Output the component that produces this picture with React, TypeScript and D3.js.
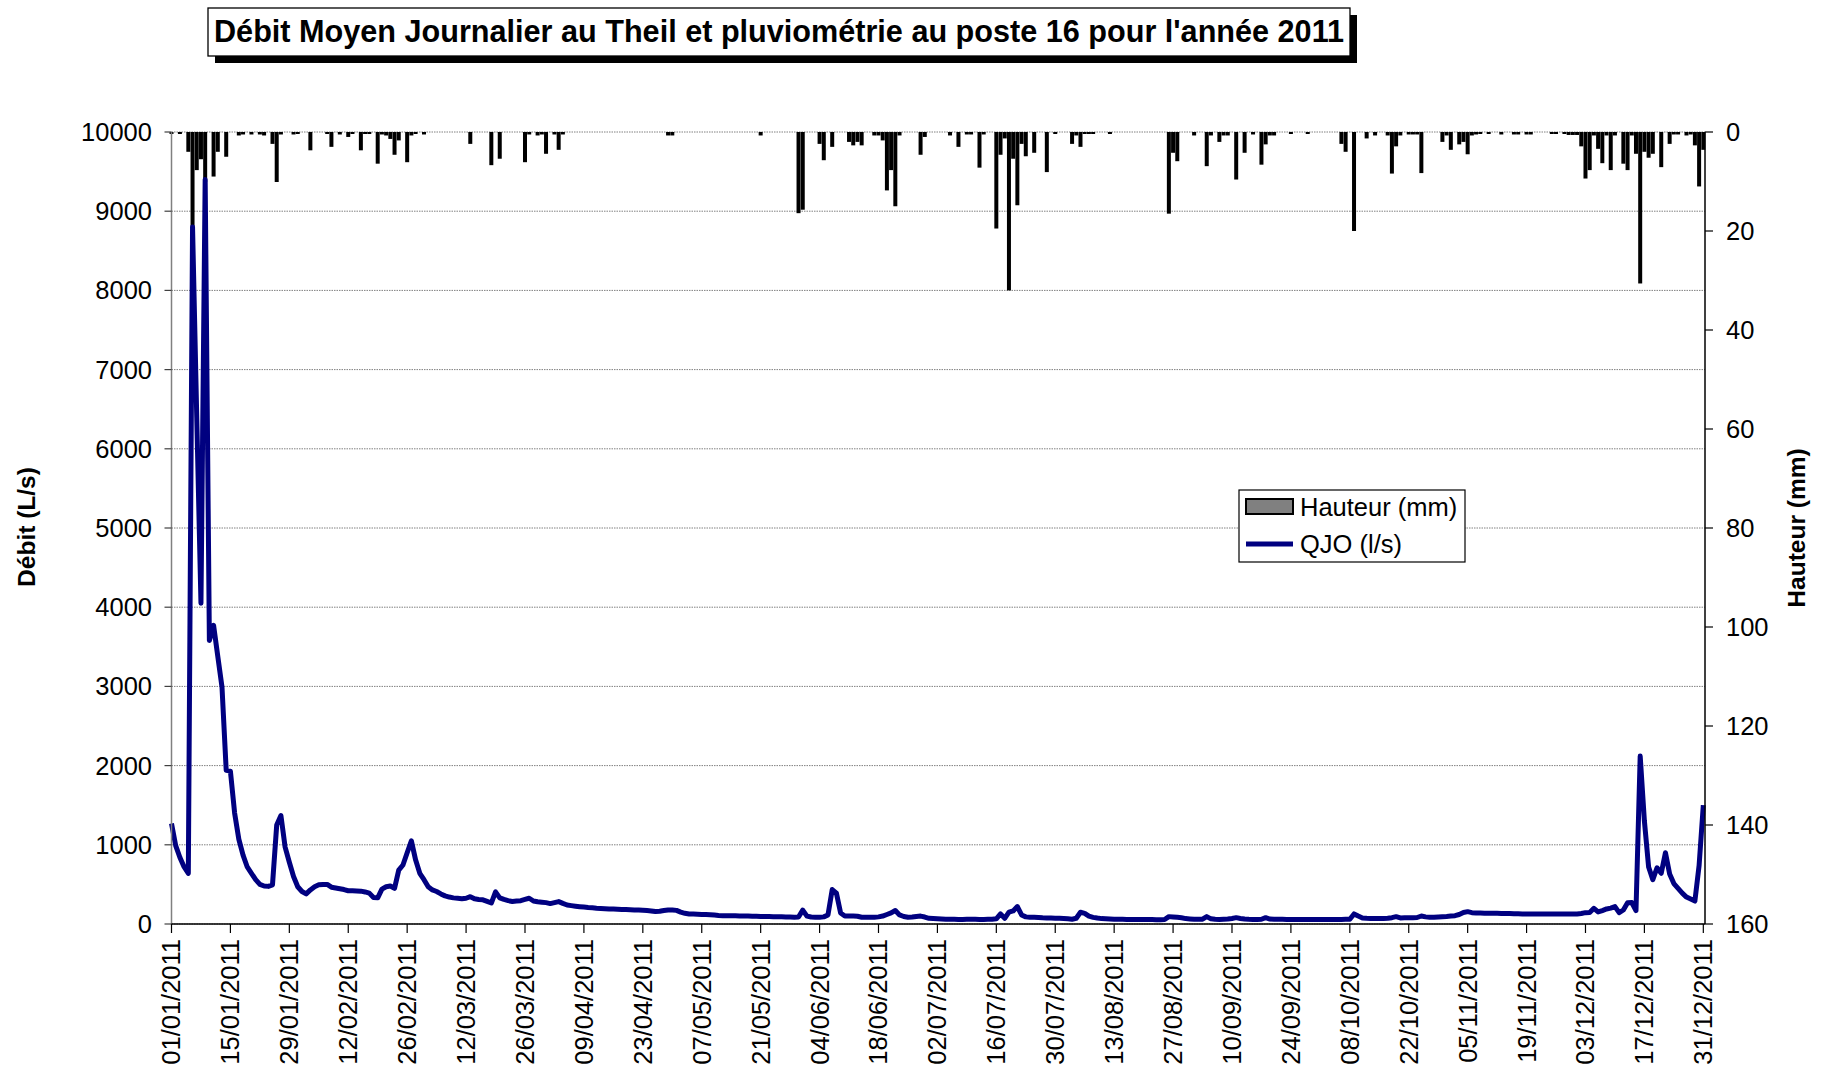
import React from "react";
import * as d3 from "d3";

// Daily mean flow QJO (l/s), 01/01/2011 .. 31/12/2011
const qjo: number[] = [
  1270, 990, 840, 720, 640, 8800, 6400, 4050, 9400, 3580,
  3770, 3380, 2990, 1940, 1930, 1400, 1070, 870, 720, 640,
  560, 500, 480, 475, 495, 1250, 1370, 970, 780, 600,
  470, 410, 380, 430, 470, 495, 500, 500, 465, 455,
  445, 435, 420, 420, 418, 415, 405, 390, 335, 330,
  440, 470, 480, 450, 680, 745, 900, 1050, 810, 640,
  560, 470, 430, 410, 380, 355, 340, 330, 325, 320,
  325, 345, 318, 310, 305, 285, 265, 405, 330, 310,
  295, 285, 290, 295, 310, 325, 290, 280, 275, 270,
  258, 270, 283, 260, 240, 232, 225, 219, 214, 208,
  205, 200, 197, 194, 190, 188, 186, 184, 182, 180,
  178, 177, 174, 170, 165, 157, 160, 170, 177, 178,
  172, 150, 135, 127, 125, 123, 121, 120, 118, 113,
  108, 105, 104, 103, 103, 102, 101, 101, 99, 98,
  96, 95, 94, 93, 91, 90, 88, 87, 86, 88,
  175, 100, 88, 85, 84, 90, 115, 435, 390, 140,
  102, 100, 100, 98, 86, 84, 84, 84, 90, 100,
  120, 140, 170, 115, 95, 85, 88, 95, 100, 88,
  72, 68, 65, 62, 60, 59, 59, 58, 58, 60,
  60, 59, 58, 58, 59, 60, 65, 127, 72, 150,
  165, 220, 115, 90, 84, 84, 82, 78, 76, 75,
  74, 72, 70, 66, 60, 72, 148, 135, 100, 84,
  75, 68, 65, 62, 60, 59, 59, 58, 58, 57,
  57, 57, 56, 56, 55, 55, 56, 93, 88, 84,
  78, 68, 64, 60, 59, 60, 93, 65, 59, 58,
  60, 62, 70, 80, 70, 62, 59, 58, 58, 60,
  80, 63, 60, 59, 59, 58, 58, 58, 58, 57,
  57, 57, 57, 57, 57, 58, 58, 58, 58, 59,
  60, 127, 100, 76, 72, 70, 68, 68, 70, 72,
  80, 93, 76, 78, 80, 80, 82, 101, 90, 84,
  85, 88, 92, 95, 100, 105, 120, 145, 156, 143,
  140, 138, 137, 136, 135, 135, 134, 133, 132, 130,
  128, 127, 127, 126, 126, 125, 125, 125, 125, 126,
  126, 126, 126, 126, 127, 132, 143, 145, 198, 152,
  170, 190, 200, 219, 143, 177, 268, 270, 169, 2120,
  1300, 720, 560, 710, 640, 900, 630, 510, 450, 390,
  340, 315, 290, 740, 1500,
];

// Daily rainfall (mm) at poste 16
const hauteur: number[] = [
  0.3, 0, 0.3, 0, 4.0, 19.3, 7.7, 5.5, 10.1, 0,
  9.0, 4.0, 0, 5.0, 0, 0, 0.7, 0.5, 0, 0.5,
  0, 0.5, 0.7, 0, 2.4, 10.1, 0.5, 0, 0, 0.5,
  0.3, 0, 0, 3.7, 0, 0, 0, 0.3, 3.0, 0,
  0.5, 0, 1.0, 0.4, 0, 3.7, 0.4, 0.4, 0, 6.4,
  0.5, 0.7, 1.4, 4.6, 1.7, 0, 6.1, 0.7, 0.4, 0,
  0.5, 0, 0, 0, 0, 0, 0, 0, 0, 0,
  0, 2.4, 0, 0, 0, 0, 6.7, 0, 5.4, 0,
  0, 0, 0, 0, 6.1, 0.5, 0, 0.7, 0.5, 4.4,
  0, 0.5, 3.6, 0.5, 0, 0, 0, 0, 0, 0,
  0, 0, 0, 0, 0, 0, 0, 0, 0, 0,
  0, 0, 0, 0, 0, 0, 0, 0, 0.7, 0.7,
  0, 0, 0, 0, 0, 0, 0, 0, 0, 0,
  0, 0, 0, 0, 0, 0, 0, 0, 0, 0,
  0.7, 0, 0, 0, 0, 0, 0, 0, 0, 16.4,
  15.7, 0, 0, 0, 2.4, 5.7, 0, 3.0, 0, 0,
  0, 2.0, 2.7, 2.0, 2.7, 0, 0, 0.7, 0.7, 1.7,
  11.8, 7.7, 15.0, 0.7, 0, 0, 0, 0, 4.6, 1.0,
  0, 0, 0, 0, 0, 0.7, 0, 3.0, 0, 0.5,
  0.5, 0, 7.2, 0.5, 0, 0, 19.5, 4.6, 1.3, 32.0,
  5.4, 14.8, 2.4, 4.9, 0, 4.2, 0, 0, 8.1, 0,
  0.3, 0, 0, 0, 2.4, 0.7, 3.0, 0.4, 0.4, 0.4,
  0, 0, 0, 0.3, 0, 0, 0, 0, 0, 0,
  0, 0, 0, 0, 0, 0, 0, 16.5, 4.2, 5.9,
  0, 0, 0, 0.7, 0, 0, 6.9, 0.7, 0, 2.0,
  0.7, 0.7, 0, 9.6, 0, 4.2, 0, 0.5, 0, 6.6,
  2.5, 0.7, 0.7, 0, 0, 0, 0.3, 0, 0, 0,
  0.3, 0, 0, 0, 0, 0, 0, 0, 2.4, 4.0,
  0, 20.0, 0, 0, 1.3, 0, 0.7, 0, 0, 0.7,
  8.4, 2.9, 0.7, 0, 0.5, 0.5, 0.5, 8.3, 0, 0,
  0, 0, 2.0, 0.7, 3.6, 0, 2.5, 2.0, 4.5, 0.7,
  0.5, 0.3, 0, 0.3, 0, 0, 0.5, 0, 0, 0.5,
  0.5, 0, 0.5, 0.5, 0, 0, 0, 0, 0.4, 0.4,
  0, 0.3, 0.6, 0.6, 0.6, 2.9, 9.4, 7.7, 0.7, 3.4,
  6.3, 0.7, 7.7, 0.7, 0, 6.4, 7.7, 0.7, 4.4, 30.6,
  4.0, 5.2, 4.4, 0, 7.1, 0, 2.4, 0.5, 0.5, 0,
  0.7, 0.5, 2.7, 11.0, 3.6,
];

const dateLabels: string[] = [
  "01/01/2011", "15/01/2011", "29/01/2011", "12/02/2011", "26/02/2011",
  "12/03/2011", "26/03/2011", "09/04/2011", "23/04/2011", "07/05/2011",
  "21/05/2011", "04/06/2011", "18/06/2011", "02/07/2011", "16/07/2011",
  "30/07/2011", "13/08/2011", "27/08/2011", "10/09/2011", "24/09/2011",
  "08/10/2011", "22/10/2011", "05/11/2011", "19/11/2011", "03/12/2011",
  "17/12/2011", "31/12/2011",
];
const dateTickDays: number[] = [
  0, 14, 28, 42, 56, 70, 84, 98, 112, 126, 140, 154, 168, 182, 196,
  210, 224, 238, 252, 266, 280, 294, 308, 322, 336, 350, 364,
];
const leftTicks: number[] = [0, 1000, 2000, 3000, 4000, 5000, 6000, 7000, 8000, 9000, 10000];
const rightTicks: number[] = [0, 20, 40, 60, 80, 100, 120, 140, 160];

const TITLE = "Débit Moyen Journalier au Theil et pluviométrie au poste 16 pour l'année 2011";
const FONT = "'Liberation Sans', Arial, Helvetica, sans-serif";

export default function App() {
  const W = 1829, H = 1072;
  const L = 171.5, R = 1705, T = 132, B = 924;
  const x = d3.scaleLinear().domain([0, 364.4]).range([L, R]);
  const yL = d3.scaleLinear().domain([0, 10000]).range([B, T]);
  const yR = d3.scaleLinear().domain([0, 160]).range([T, B]);
  const step = x(1) - x(0);
  const barW = step * 0.95;

  const line = d3
    .line<number>()
    .x((_, i) => x(i))
    .y((d) => yL(d));

  const fs = 25.5;

  return (
    <svg
      width={W}
      height={H}
      style={{ position: "absolute", left: 0, top: 0, display: "block", background: "#fff" }}
      fontFamily={FONT}
    >
      <rect x={0} y={0} width={W} height={H} fill="#fff" />
      {/* Title */}
      <rect x={215} y={15} width={1142} height={48} fill="#000" />
      <rect x={208} y={8} width={1142} height={48} fill="#fff" stroke="#000" strokeWidth={1.3} />
      <text
        x={779}
        y={42}
        textAnchor="middle"
        fontWeight="bold"
        fontSize={30.8}
        textLength={1130}
        lengthAdjust="spacingAndGlyphs"
      >
        {TITLE}
      </text>

      {/* gridlines */}
      {leftTicks.map((t) => (
        <line
          key={"g" + t}
          x1={L}
          x2={R}
          y1={yL(t)}
          y2={yL(t)}
          stroke="#808080"
          strokeWidth={1}
          strokeDasharray="1.5,1"
        />
      ))}

      {/* rain bars */}
      {hauteur.map((v, i) =>
        v > 0 ? (
          <rect
            key={"b" + i}
            x={x(i) - barW / 2}
            y={yR(0)}
            width={barW}
            height={Math.max(yR(v) - yR(0), 2)}
            fill="#000"
          />
        ) : null
      )}

      {/* flow line */}
      <path d={line(qjo) || ""} fill="none" stroke="#000080" strokeWidth={5} strokeLinejoin="round" />

      {/* left axis */}
      <line x1={L} x2={L} y1={T} y2={B} stroke="#808080" strokeWidth={1.5} />
      {leftTicks.map((t) => (
        <g key={"l" + t}>
          <line x1={L - 7} x2={L} y1={yL(t)} y2={yL(t)} stroke="#404040" strokeWidth={1.2} />
          <text x={152} y={yL(t)} dy="0.35em" textAnchor="end" fontSize={fs}>
            {t}
          </text>
        </g>
      ))}

      {/* right axis */}
      <line x1={R} x2={R} y1={T} y2={B} stroke="#000" strokeWidth={1.5} />
      {rightTicks.map((t) => (
        <g key={"r" + t}>
          <line x1={R} x2={R + 8} y1={yR(t)} y2={yR(t)} stroke="#000" strokeWidth={1.2} />
          <text x={1726} y={yR(t)} dy="0.35em" textAnchor="start" fontSize={fs}>
            {t}
          </text>
        </g>
      ))}

      {/* bottom axis */}
      <line x1={L} x2={R} y1={B} y2={B} stroke="#000" strokeWidth={1.5} />
      {dateTickDays.map((d, i) => (
        <g key={"x" + d}>
          <line x1={x(d)} x2={x(d)} y1={B} y2={B + 9} stroke="#000" strokeWidth={1.2} />
          <text
            transform={`translate(${x(d)},939) rotate(-90)`}
            dy="0.35em"
            textAnchor="end"
            fontSize={fs}
          >
            {dateLabels[i]}
          </text>
        </g>
      ))}

      {/* axis titles */}
      <text transform="translate(26,527) rotate(-90)" dy="0.35em" textAnchor="middle" fontWeight="bold" fontSize={24.5}>
        Débit (L/s)
      </text>
      <text transform="translate(1796,528) rotate(-90)" dy="0.35em" textAnchor="middle" fontWeight="bold" fontSize={24.5}>
        Hauteur (mm)
      </text>

      {/* legend */}
      <rect x={1239} y={490} width={226} height={72} fill="#fff" stroke="#000" strokeWidth={1.2} />
      <rect x={1246} y={499} width={47} height={15} fill="#808080" stroke="#000" strokeWidth={2} />
      <text x={1300} y={516} fontSize={fs}>
        Hauteur (mm)
      </text>
      <line x1={1246} x2={1293} y1={544} y2={544} stroke="#000080" strokeWidth={5} />
      <text x={1300} y={553} fontSize={fs}>
        QJO (l/s)
      </text>
    </svg>
  );
}
